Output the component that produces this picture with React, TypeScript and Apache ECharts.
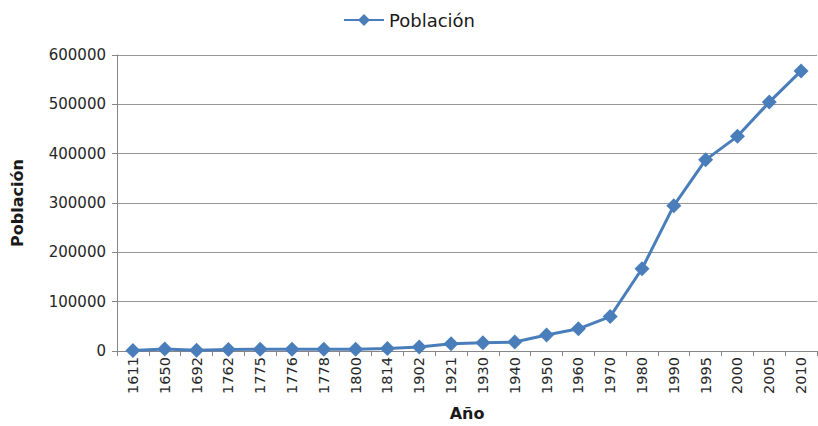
import React, { useEffect, useRef } from "react";
import * as echarts from "echarts";

const years = ["1611","1650","1692","1762","1775","1776","1778","1800","1814","1902","1921","1930","1940","1950","1960","1970","1980","1990","1995","2000","2005","2010"];
const population = [1000, 4000, 1500, 3000, 3500, 3500, 3400, 3500, 5000, 8000, 14700, 16700, 18200, 32300, 45000, 69800, 166700, 294600, 387500, 435100, 504500, 567700];
const yTicks = { min: 0, max: 600000, interval: 100000 };

export default function App() {
  const ref = useRef<HTMLDivElement>(null);
  useEffect(() => {
    if (!ref.current) return;
    const chart = echarts.init(ref.current, null, { renderer: "svg" });
    const font = "DejaVu Sans";
    chart.setOption({
      animation: false,
      backgroundColor: "#ffffff",
      textStyle: { fontFamily: font },
      legend: {
        top: 6,
        left: "center",
        itemWidth: 40,
        itemHeight: 15,
        itemGap: 6,
        textStyle: { fontFamily: font, fontSize: 18, color: "#1a1a1a" },
        data: ["Población"],
      },
      grid: { left: 117, right: 1, top: 55, bottom: 74, containLabel: false },
      xAxis: {
        type: "category",
        data: years,
        boundaryGap: true,
        name: "Año",
        nameLocation: "middle",
        nameGap: 54,
        nameTextStyle: { fontFamily: font, fontSize: 16, fontWeight: "bold", color: "#1a1a1a" },
        axisLine: { show: true, lineStyle: { color: "#868686", width: 1 } },
        axisTick: { show: true, alignWithLabel: false, length: 5, lineStyle: { color: "#868686" } },
        axisLabel: { rotate: 90, margin: 6, fontSize: 14.5, color: "#262626", fontFamily: font, interval: 0 },
        splitLine: { show: false },
      },
      yAxis: {
        type: "value",
        min: yTicks.min,
        max: yTicks.max,
        interval: yTicks.interval,
        name: "Población",
        nameLocation: "middle",
        nameGap: 92,
        nameRotate: 90,
        nameTextStyle: { fontFamily: font, fontSize: 16, fontWeight: "bold", color: "#1a1a1a" },
        axisLine: { show: true, lineStyle: { color: "#868686", width: 1 } },
        axisTick: { show: true, length: 5, lineStyle: { color: "#868686" } },
        axisLabel: { margin: 11, fontSize: 15, color: "#262626", fontFamily: font, formatter: (v: number) => String(v) },
        splitLine: { show: true, lineStyle: { color: "#969696", width: 1 } },
      },
      series: [
        {
          name: "Población",
          type: "line",
          data: population,
          symbol: "diamond",
          symbolSize: 15,
          lineStyle: { color: "#4a7ebb", width: 3 },
          itemStyle: { color: "#4a7ebb" },
        },
      ],
    });
    return () => chart.dispose();
  }, []);
  return <div ref={ref} style={{ width: 818, height: 426, position: "absolute", left: 0, top: 0 }} />;
}
